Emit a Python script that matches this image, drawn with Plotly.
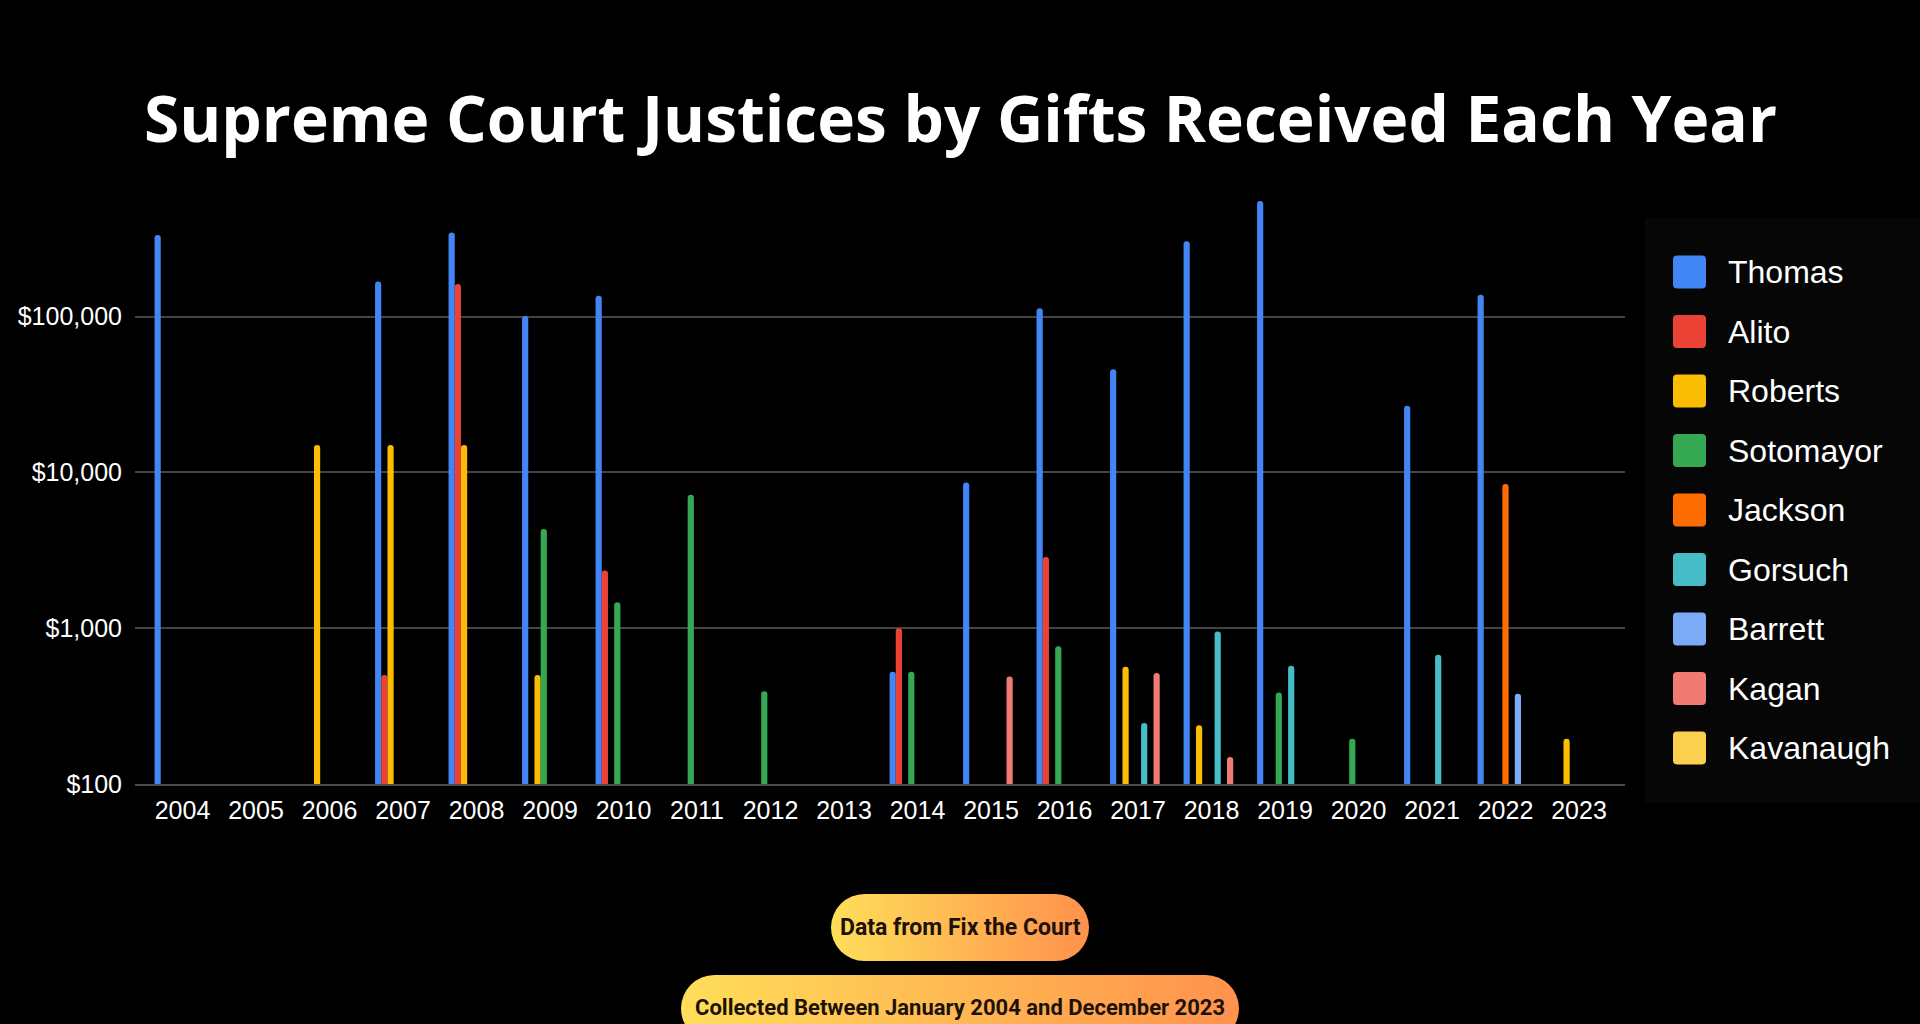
import base64
import plotly.graph_objects as go

# ---------------- data ----------------
years = [str(y) for y in range(2004, 2024)]
justices = ["Thomas", "Alito", "Roberts", "Sotomayor", "Jackson",
            "Gorsuch", "Barrett", "Kagan", "Kavanaugh"]
colors = ["#4285F4", "#EA4335", "#FBBC04", "#34A853", "#FF6D01",
          "#46BDC6", "#7BAAF7", "#F07B72", "#FCD04F"]
N = None
#            2004    2005 2006   2007    2008    2009    2010    2011  2012 2013 2014  2015  2016    2017   2018    2019    2020 2021   2022    2023
thomas    = [334000, N,   N,     168000, 346000, 101000, 136000, N,    N,   N,   525,  8600, 113000, 46000, 305000, 553000, N,   26800, 138000, N]
alito     = [N,      N,   N,     500,    162000, N,      2350,   N,    N,   N,   1000, N,    2860,   N,     N,      N,      N,   N,     N,      N]
roberts   = [N,      N,   15000, 15000,  15000,  500,    N,      N,    N,   N,   N,    N,    N,      565,   238,    N,      N,   N,     N,      195]
sotomayor = [N,      N,   N,     N,      N,      4330,   1470,   7180, 394, N,   525,  N,    767,    N,     N,      387,    195, N,     N,      N]
jackson   = [N,      N,   N,     N,      N,      N,      N,      N,    N,   N,   N,    N,    N,      N,     N,      N,      N,   N,     8440,   N]
gorsuch   = [N,      N,   N,     N,      N,      N,      N,      N,    N,   N,   N,    N,    N,      246,   952,    575,    N,   676,   N,      N]
barrett   = [N,      N,   N,     N,      N,      N,      N,      N,    N,   N,   N,    N,    N,      N,     N,      N,      N,   N,     380,    N]
kagan     = [N,      N,   N,     N,      N,      N,      N,      N,    N,   N,   N,    489,  N,      516,   149,    N,      N,   N,     N,      N]
kavanaugh = [N] * 20
series = [thomas, alito, roberts, sotomayor, jackson, gorsuch, barrett, kagan, kavanaugh]

tick_values = [100, 1000, 10000, 100000]
tick_labels = ["$100", "$1,000", "$10,000", "$100,000"]

title_text = "Supreme Court Justices by Gifts Received Each Year"
source_text = "Data from Fix the Court"
period_text = "Collected Between January 2004 and December 2023"

# ---------------- layout geometry (pixels) ----------------
W, H = 1920, 1024
L, R, T, B = 135, 1625, 180, 784
PW, PH = R - L, B - T
DECADE = 155.8


def px2x(px):
    return (px - L) / PW


def px2y(py):
    return (B - py) / PH


fig = go.Figure()
for name, vals, col in zip(justices, series, colors):
    fig.add_trace(go.Bar(x=years, y=vals, name=name, marker_color=col,
                         marker_line_width=0, showlegend=False))

font_main = "Liberation Sans, Arial, sans-serif"

shapes = []
annotations = []
images = []

# subtle legend panel
shapes.append(dict(type="rect", xref="paper", yref="paper",
                   x0=px2x(1645), x1=px2x(1920), y0=px2y(803), y1=px2y(218),
                   fillcolor="#060606", line_width=0, layer="below"))


def P(px, py):
    return f"{px2x(px):.6f},{px2y(py):.6f}"


# custom legend (large rounded swatches)
for i, (name, col) in enumerate(zip(justices, colors)):
    cy = 272 + i * 59.5
    x0, x1 = 1673, 1706
    y0, y1 = cy - 16.5, cy + 16.5
    r = 4
    path = (f"M{P(x0 + r, y0)} L{P(x1 - r, y0)} Q{P(x1, y0)} {P(x1, y0 + r)} "
            f"L{P(x1, y1 - r)} Q{P(x1, y1)} {P(x1 - r, y1)} L{P(x0 + r, y1)} "
            f"Q{P(x0, y1)} {P(x0, y1 - r)} L{P(x0, y0 + r)} Q{P(x0, y0)} {P(x0 + r, y0)} Z")
    shapes.append(dict(type="path", xref="paper", yref="paper", path=path,
                       fillcolor=col, line_width=0))
    annotations.append(dict(text=name, xref="paper", yref="paper",
                            x=px2x(1726), y=px2y(cy), xanchor="left", yanchor="middle",
                            showarrow=False,
                            font=dict(family=font_main, size=32, color="white")))

# title
annotations.append(dict(text=f"<b>{title_text}</b>", xref="paper", yref="paper",
                        x=px2x(960), y=px2y(117), xanchor="center", yanchor="middle",
                        showarrow=False,
                        font=dict(family="Open Sans, sans-serif", size=64, color="white")))


# gradient pills
def pill(w, h):
    svg = (f'<svg xmlns="http://www.w3.org/2000/svg" width="{w}" height="{h}" viewBox="0 0 {w} {h}">'
           '<defs><linearGradient id="g" x1="0" x2="1" y1="0" y2="0">'
           '<stop offset="0" stop-color="#FFDE59"/><stop offset="1" stop-color="#FF914D"/>'
           '</linearGradient></defs>'
           f'<rect x="0" y="0" width="{w}" height="{h}" rx="{h / 2}" ry="{h / 2}" fill="url(#g)"/></svg>')
    return "data:image/svg+xml;base64," + base64.b64encode(svg.encode()).decode()


for (x0, y0, w, h, txt, ty, fs) in [(831, 894, 258, 67, source_text, 927, 23),
                                     (681, 975, 558, 67, period_text, 1007, 22)]:
    images.append(dict(source=pill(w, h), xref="paper", yref="paper",
                       x=px2x(x0), y=px2y(y0), sizex=w / PW, sizey=h / PH,
                       xanchor="left", yanchor="top", sizing="stretch", layer="below"))
    annotations.append(dict(text=f"<b>{txt}</b>", xref="paper", yref="paper",
                            x=px2x(x0 + w / 2), y=px2y(ty), xanchor="center", yanchor="middle",
                            showarrow=False,
                            font=dict(family="Roboto, sans-serif",
                                      size=fs, color="#1c1208")))

fig.update_layout(
    width=W, height=H,
    margin=dict(l=L, r=W - R, t=T, b=H - B, pad=0),
    paper_bgcolor="black", plot_bgcolor="black",
    barmode="group", bargap=0.24, bargroupgap=0.0,
    barcornerradius=3,
    font=dict(family=font_main, color="white"),
    shapes=shapes, annotations=annotations, images=images,
    xaxis=dict(type="category", range=[-0.646, 19.626], showgrid=False,
               showline=True, linecolor="#4a4a4a", linewidth=1.5,
               ticks="", ticklabelstandoff=3,
               tickfont=dict(family=font_main, size=25, color="white")),
    yaxis=dict(type="log", range=[2, 2 + PH / DECADE],
               tickvals=tick_values, ticktext=tick_labels,
               showgrid=True, gridcolor="#444444", gridwidth=1.5,
               zeroline=False, showline=False, ticks="", ticklabelstandoff=12,
               tickfont=dict(family=font_main, size=25, color="white")),
)

fig.write_html("out.html")
